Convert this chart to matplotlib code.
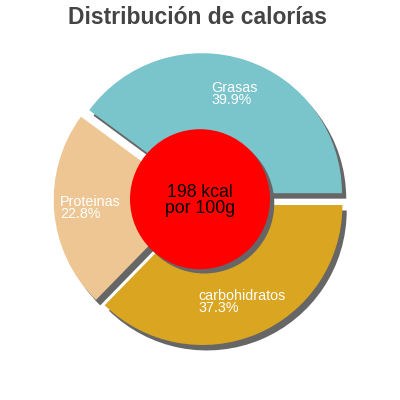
import matplotlib.pyplot as plt
from matplotlib.patches import Circle, Shadow

# Datos
categorias = ["Grasas", "Proteinas", "carbohidratos"]
porcentajes = [39.9, 22.8, 37.3]
colores = ["#7ac4cc", "#eec694", "#daa520"]
kcal = 198

W = H = 400
fig = plt.figure(figsize=(4, 4), dpi=100)

# pie centre (200, 199) px, radius 140 px
cx, cy, r = 200, 199.2, 140
ax = fig.add_axes([(cx - r) / W, (H - cy - r) / H, 2 * r / W, 2 * r / H])

wedges, _ = ax.pie(
    porcentajes, colors=colores, startangle=0, counterclock=True,
    explode=[0.045] * len(porcentajes),
    wedgeprops=dict(linewidth=0, clip_on=False),
    shadow=dict(ox=0.022, oy=-0.028, facecolor="#666666", edgecolor="none", alpha=1),
)
ax.set_xlim(-1, 1)
ax.set_ylim(-1, 1)
ax.set_aspect("equal")
ax.axis("off")

# centre circle
centro = Circle((0, 0), 0.5, facecolor="#ff0000", edgecolor="none", zorder=5, clip_on=False)
sombra = Shadow(centro, 0.022, -0.022, facecolor="#666666", edgecolor="none", alpha=1)
sombra.set_zorder(4)
sombra.set_clip_on(False)
ax.add_patch(sombra)
ax.add_patch(centro)

font = "Liberation Sans"

def px(x, y):
    return x / W, 1 - y / H

fig.text(*px(198, 24), "Distribución de calorías", ha="center", va="baseline",
         fontsize=16.5, fontweight="bold", color="#444444", family=font)

# baseline of the last line
fig.text(*px(cx, 213.3), f"{kcal} kcal\npor 100g", ha="center", va="baseline",
         fontsize=12.7, color="black", family=font, zorder=10,
         linespacing=0.98, multialignment="center")

# label positions (left x, top y) in pixels
pos_etiquetas = [(211.7, 80.5), (60, 195), (198.3, 289)]
for nombre, pct, (lx, ly) in zip(categorias, porcentajes, pos_etiquetas):
    fig.text(*px(lx, ly), f"{nombre}\n{pct}%", ha="left", va="top",
             fontsize=10.3, color="white", family=font, zorder=10,
             linespacing=0.83)

fig.savefig("out.png", dpi=100)
